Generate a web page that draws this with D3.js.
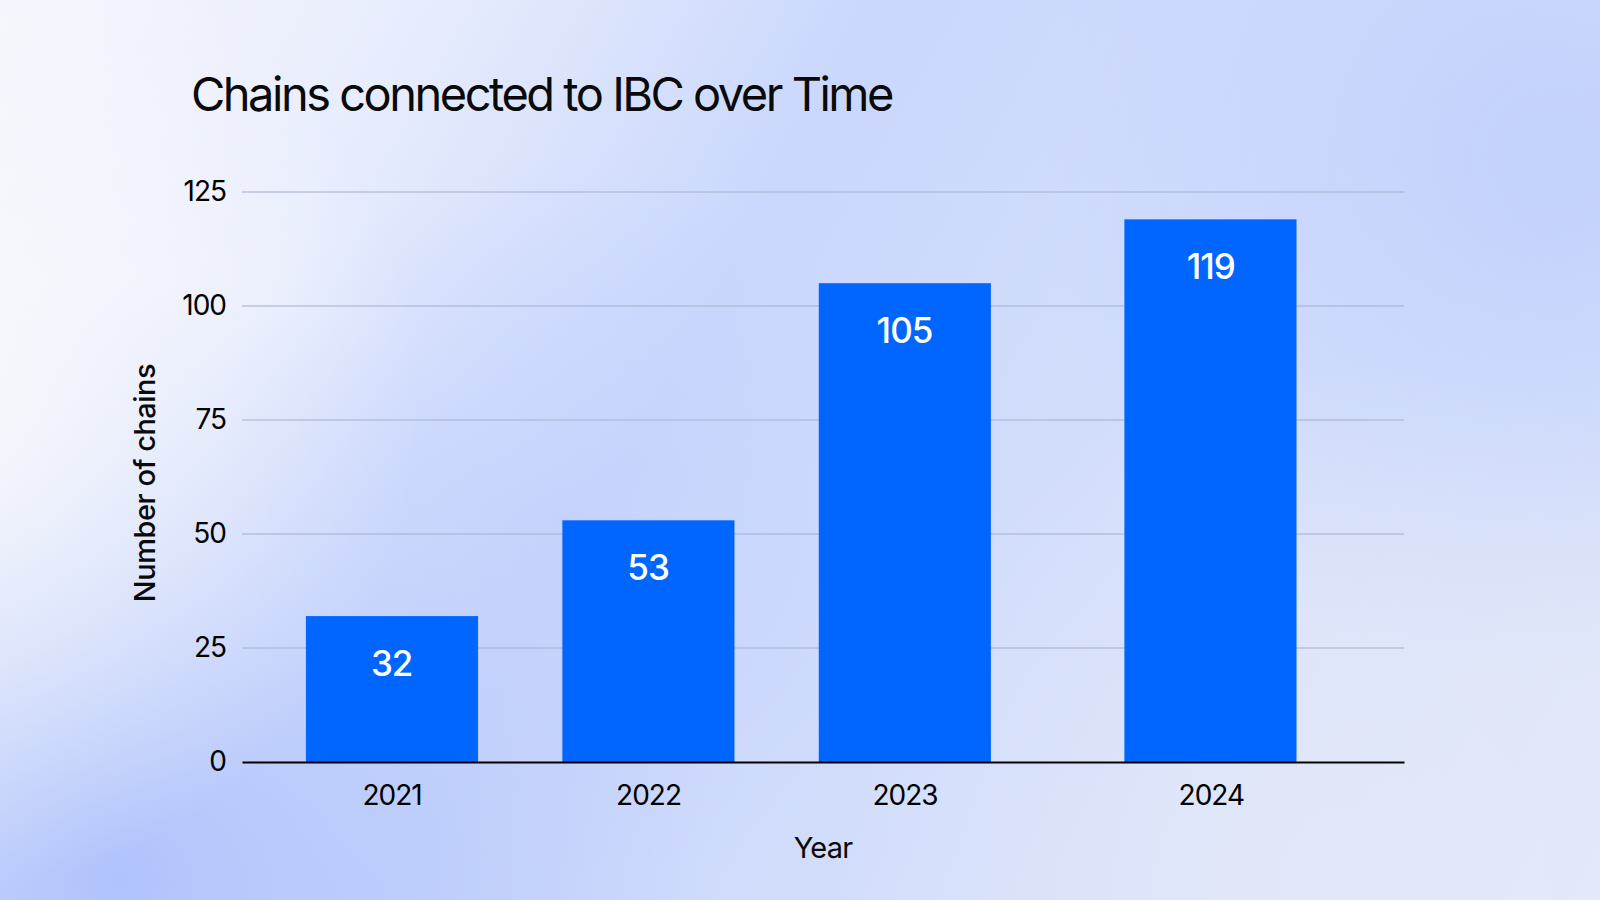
<!DOCTYPE html>
<html>
<head>
<meta charset="utf-8">
<script src="https://cdn.jsdelivr.net/npm/d3@7"></script>
<style>
	html, body { margin: 0; padding: 0; }
	body { width: 1600px; height: 900px; overflow: hidden; }
	svg text { font-family: Inter, "Liberation Sans", sans-serif; }
</style>
</head>
<body>
<svg id="chart" width="1600" height="900"></svg>
<script>
// chart data
var years = ["2021", "2022", "2023", "2024"];
// when each count was taken (the last one is later in the year)
var dates = ["2021-07-01", "2022-07-01", "2023-07-01", "2024-09-09"];
var chains = [32, 53, 105, 119];
var yTicks = [0, 25, 50, 75, 100, 125];

var parse = d3.timeParse("%Y-%m-%d");
var rows = years.map(function(year, i) {
	return { year: year, date: parse(dates[i]), value: chains[i] };
});

var svg = d3.select("#chart");
var width = 1600, height = 900;
var margin = { left: 242, right: 196, top: 192, bottom: 138 };

// background, a soft blue wash
var defs = svg.append("defs");
var base = defs.append("linearGradient")
	.attr("id", "bg-base")
	.attr("gradientUnits", "userSpaceOnUse")
	.attr("x1", 0).attr("y1", 0).attr("x2", 1600).attr("y2", 900);
base.append("stop").attr("offset", 0).attr("stop-color", "#f5f6fc");
base.append("stop").attr("offset", 0.2).attr("stop-color", "#e8edfd");
base.append("stop").attr("offset", 0.42).attr("stop-color", "#cad7fc");
base.append("stop").attr("offset", 0.7).attr("stop-color", "#d5dffb");
base.append("stop").attr("offset", 1).attr("stop-color", "#e3e9f9");

function glow(id, cx, cy, r, color, opacity) {
	var g = defs.append("radialGradient")
		.attr("id", id)
		.attr("gradientUnits", "userSpaceOnUse")
		.attr("cx", cx).attr("cy", cy).attr("r", r);
	g.append("stop").attr("offset", 0).attr("stop-color", color).attr("stop-opacity", opacity);
	g.append("stop").attr("offset", 1).attr("stop-color", color).attr("stop-opacity", 0);
	svg.append("rect")
		.attr("width", width)
		.attr("height", height)
		.attr("fill", "url(#" + id + ")");
}

svg.append("rect")
	.attr("width", width)
	.attr("height", height)
	.attr("fill", "url(#bg-base)");
glow("bg-blue-left", 120, 880, 600, "#b0c3fb", 1);
glow("bg-blue-mid", 560, 520, 360, "#c3d1fc", 0.7);
glow("bg-blue-right", 1560, 160, 520, "#bfcffd", 0.9);
glow("bg-white-left", -80, 400, 500, "#f8f9fc", 1);
glow("bg-light-bottom", 1350, 880, 520, "#e4e9f8", 0.8);

// scales
var x = d3.scaleTime()
	.domain([parse("2020-11-30"), parse("2025-06-11")])
	.range([margin.left, width - margin.right]);

var y = d3.scaleLinear()
	.domain([0, 125])
	.range([762, margin.top]);

// gridlines
svg.append("g")
	.selectAll("line")
	.data(yTicks.filter(function(d) { return d > 0; }))
	.enter().append("line")
	.attr("x1", x.range()[0])
	.attr("x2", x.range()[1])
	.attr("y1", function(d) { return y(d); })
	.attr("y2", function(d) { return y(d); })
	.attr("stroke", "#a6aec8")
	.attr("stroke-width", 1);

// bars, each spans four months to either side of its date
svg.append("g")
	.selectAll("rect")
	.data(rows)
	.enter().append("rect")
	.attr("x", function(d) { return x(d3.timeMonth.offset(d.date, -4)); })
	.attr("width", function(d) { return x(d3.timeMonth.offset(d.date, 4)) - x(d3.timeMonth.offset(d.date, -4)); })
	.attr("y", function(d) { return y(d.value); })
	.attr("height", function(d) { return y(0) - y(d.value); })
	.attr("fill", "#0066ff");

// value labels inside the bars
svg.append("g")
	.selectAll("text")
	.data(rows)
	.enter().append("text")
	.attr("x", function(d) { return x(d.date); })
	.attr("y", function(d) { return y(d.value) + 60; })
	.attr("text-anchor", "middle")
	.attr("fill", "#ffffff")
	.attr("font-size", 35)
	.attr("font-weight", 500)
	.attr("letter-spacing", -1)
	.text(function(d) { return d.value; });

// y axis
var yAxis = svg.append("g")
	.attr("transform", "translate(" + margin.left + ",0)")
	.call(d3.axisLeft(y).tickValues(yTicks).tickSize(0).tickPadding(16));
yAxis.select(".domain").remove();
yAxis.selectAll("text")
	.attr("font-family", "Inter, sans-serif")
	.attr("font-size", 28)
	.attr("letter-spacing", -1)
	.attr("fill", "#000");

// x axis
var xAxis = svg.append("g")
	.attr("transform", "translate(0," + y(0) + ")")
	.call(d3.axisBottom(x)
		.tickValues(rows.map(function(d) { return d.date; }))
		.tickFormat(function(d, i) { return years[i]; })
		.tickSize(0)
		.tickPadding(23));
xAxis.select(".domain")
	.attr("stroke", "#000")
	.attr("stroke-width", 2);
xAxis.selectAll("text")
	.attr("font-family", "Inter, sans-serif")
	.attr("font-size", 28)
	.attr("letter-spacing", -1)
	.attr("fill", "#000");

// titles
svg.append("text")
	.attr("x", 191)
	.attr("y", 111)
	.attr("font-size", 47)
	.attr("letter-spacing", -2.5)
	.attr("fill", "#0a0a0a")
	.text("Chains connected to IBC over Time");

svg.append("text")
	.attr("x", 823)
	.attr("y", 858)
	.attr("text-anchor", "middle")
	.attr("font-size", 29)
	.attr("letter-spacing", -0.8)
	.attr("fill", "#0a0a0a")
	.text("Year");

svg.append("text")
	.attr("transform", "translate(155,483) rotate(-90)")
	.attr("text-anchor", "middle")
	.attr("font-size", 29)
	.attr("font-weight", 500)
	.attr("letter-spacing", -0.5)
	.attr("fill", "#0a0a0a")
	.text("Number of chains");
</script>
</body>
</html>
